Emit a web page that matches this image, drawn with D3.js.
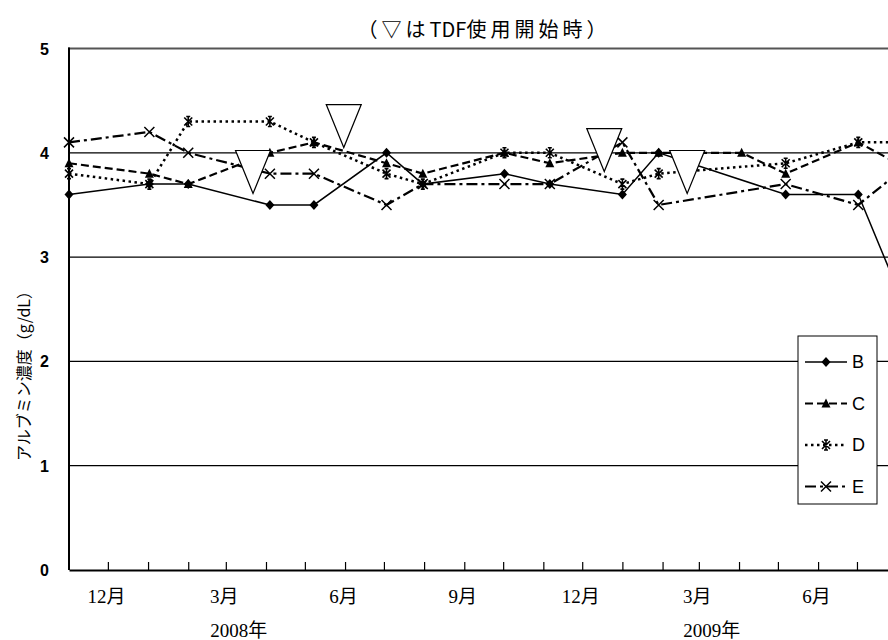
<!DOCTYPE html>
<html>
<head>
<meta charset="utf-8">
<script src="https://cdn.jsdelivr.net/npm/d3@7"></script>
<style>
  body { margin: 0; background: #fff; }
  svg { display: block; }
</style>
</head>
<body>
<div id="chart"></div>
<script>
// Measurement dates (shared by all series)
const dates = ["2007-11-01", "2008-01-02", "2008-02-01", "2008-04-04", "2008-05-08",
               "2008-07-03", "2008-07-31", "2008-10-02", "2008-11-06", "2009-01-01",
               "2009-01-29", "2009-04-03", "2009-05-07", "2009-07-02", "2009-08-01"];

// Albumin values per patient (null = not measured)
const seriesB = [3.6, 3.7, 3.7, 3.5, 3.5, 4.0, 3.7, 3.8, 3.7, 3.6, 4.0, null, 3.6, 3.6, 2.7];
const seriesC = [3.9, 3.8, 3.7, 4.0, 4.1, 3.9, 3.8, 4.0, 3.9, 4.0, 4.0, 4.0, 3.8, 4.1, 3.9];
const seriesD = [3.8, 3.7, 4.3, 4.3, 4.1, 3.8, 3.7, 4.0, 4.0, 3.7, 3.8, null, 3.9, 4.1, 4.1];
const seriesE = [4.1, 4.2, 4.0, 3.8, 3.8, 3.5, 3.7, 3.7, 3.7, 4.1, 3.5, null, 3.7, 3.5, 3.8];

// TDF start markers (tip of the ▽)
const tdfDates = ["2008-03-22", "2008-05-31", "2008-12-18", "2009-02-20"];
const tdfValues = [3.61, 4.05, 3.82, 3.61];

const yTicks = [0, 1, 2, 3, 4, 5];
const yearLabels = [["2008-03-01", "2008年"], ["2009-03-01", "2009年"]];

const W = 888, H = 640;
const parse = d3.timeParse("%Y-%m-%d");

const svg = d3.select("#chart").append("svg")
    .attr("width", W)
    .attr("height", H);

// scales: ~1.296 px per day, starting Nov 2007 at the y-axis
const x0 = parse("2007-11-01"), x1 = parse("2009-10-01");
const xScale = d3.scaleTime()
    .domain([x0, x1])
    .range([69, 69 + 1.296 * d3.timeDay.count(x0, x1)]);

const yScale = d3.scaleLinear()
    .domain([0, 5])
    .range([570, 48.5]);

// horizontal grid lines
svg.append("g")
    .selectAll("line")
    .data(yTicks.filter(d => d > 0 && d < 5))
    .enter().append("line")
    .attr("x1", 69).attr("x2", W)
    .attr("y1", d => yScale(d)).attr("y2", d => yScale(d))
    .attr("stroke", "#000")
    .attr("stroke-width", 1.2);

// top border
svg.append("line")
    .attr("x1", 68).attr("x2", W)
    .attr("y1", yScale(5)).attr("y2", yScale(5))
    .attr("stroke", "#555")
    .attr("stroke-width", 2);

// y axis
svg.append("line")
    .attr("x1", 69).attr("x2", 69)
    .attr("y1", yScale(5) - 1).attr("y2", yScale(0))
    .attr("stroke", "#000")
    .attr("stroke-width", 2);

svg.append("g")
    .selectAll("text")
    .data(yTicks)
    .enter().append("text")
    .attr("x", 49)
    .attr("y", d => yScale(d) + 6)
    .attr("text-anchor", "end")
    .style("font-family", "'Liberation Sans', Arial, sans-serif")
    .style("font-weight", "bold")
    .style("font-size", "16px")
    .text(d => d);

// x axis: monthly ticks pointing up, labels every 3 months (only the visible part)
const xAxis = d3.axisBottom(xScale)
    .tickValues(d3.timeMonth.range(parse("2007-12-01"), parse("2009-08-02")))
    .tickSizeInner(-8)
    .tickSizeOuter(0)
    .tickFormat(d => (d.getMonth() % 3 === 2 ? (d.getMonth() + 1) + "月" : ""));

const gx = svg.append("g")
    .attr("transform", `translate(0,${yScale(0)})`)
    .call(xAxis);

gx.select(".domain")
    .attr("stroke", "#000")
    .attr("stroke-width", 2);
gx.selectAll(".tick line")
    .attr("stroke", "#000")
    .attr("stroke-width", 1.2);
gx.selectAll(".tick text")
    .attr("y", 20)
    .attr("dx", "-2px")
    .style("font-family", "'Liberation Serif', 'Noto Sans CJK JP', serif")
    .style("font-size", "19px")
    .attr("fill", "#000");

svg.append("g")
    .selectAll("text")
    .data(yearLabels)
    .enter().append("text")
    .attr("x", d => xScale(parse(d[0])) + 13)
    .attr("y", 637)
    .attr("text-anchor", "middle")
    .style("font-family", "'Liberation Serif', 'Noto Sans CJK JP', serif")
    .style("font-size", "19px")
    .text(d => d[1]);

// series
const series = [
    { name: "B", values: seriesB, dash: null, width: 1.5, marker: "diamond" },
    { name: "C", values: seriesC, dash: "8,4", width: 2.2, marker: "triangle" },
    { name: "D", values: seriesD, dash: "2.5,3.5", width: 2.5, marker: "star" },
    { name: "E", values: seriesE, dash: "11,4,3,4", width: 2.2, marker: "cross" }
];

const line = d3.line()
    .x(d => xScale(d.date))
    .y(d => yScale(d.value));

function points(s) {
    return dates.map((d, i) => ({ date: parse(d), value: s.values[i] }))
        .filter(p => p.value !== null);
}

function drawMarker(g, type) {
    if (type === "diamond") {
        g.append("path").attr("d", "M0,-5L4.5,0L0,5L-4.5,0Z").attr("fill", "#000");
    } else if (type === "triangle") {
        g.append("path").attr("d", "M0,-5L4.5,4L-4.5,4Z").attr("fill", "#000");
    } else if (type === "star") {
        g.append("path").attr("d", "M-4,-4L4,4M-4,4L4,-4M0,-5L0,5M-2,-5L2,-5M-2,5L2,5")
            .attr("stroke", "#000").attr("stroke-width", 1.6).attr("fill", "none");
    } else {
        g.append("path").attr("d", "M-5,-5L5,5M-5,5L5,-5")
            .attr("stroke", "#000").attr("stroke-width", 1.5).attr("fill", "none");
    }
}

series.forEach(s => {
    svg.append("path")
        .datum(points(s))
        .attr("d", line)
        .attr("fill", "none")
        .attr("stroke", "#000")
        .attr("stroke-width", s.width)
        .attr("stroke-dasharray", s.dash);
});

series.forEach(s => {
    svg.append("g")
        .selectAll("g")
        .data(points(s))
        .enter().append("g")
        .attr("transform", d => `translate(${xScale(d.date)},${yScale(d.value)})`)
        .each(function() { drawMarker(d3.select(this), s.marker); });
});

// TDF start ▽ markers
svg.append("g")
    .selectAll("path")
    .data(tdfDates.map((d, i) => ({ date: parse(d), value: tdfValues[i] })))
    .enter().append("path")
    .attr("transform", d => `translate(${xScale(d.date)},${yScale(d.value)})`)
    .attr("d", "M0,0L-17.5,-43L17.5,-43Z")
    .attr("fill", "#fff")
    .attr("stroke", "#000")
    .attr("stroke-width", 1.2);

// legend
const legend = svg.append("g")
    .attr("transform", "translate(798,336)");

legend.append("rect")
    .attr("width", 79)
    .attr("height", 168)
    .attr("fill", "#fff")
    .attr("stroke", "#000")
    .attr("stroke-width", 1);

const legendItems = legend.selectAll(".legend-item")
    .data(series)
    .enter().append("g")
    .attr("class", "legend-item")
    .attr("transform", (d, i) => `translate(0,${26 + i * 41.5})`);

legendItems.append("line")
    .attr("x1", 7).attr("x2", 49)
    .attr("stroke", "#000")
    .attr("stroke-width", d => d.width)
    .attr("stroke-dasharray", d => d.dash);

legendItems.append("g")
    .attr("transform", "translate(28,0)")
    .each(function(d) { drawMarker(d3.select(this), d.marker); });

legendItems.append("text")
    .attr("x", 54)
    .attr("y", 6)
    .style("font-family", "'Liberation Sans', Arial, sans-serif")
    .style("font-size", "18px")
    .text(d => d.name);

// title (CJK part spaced out, "TDF" tight)
const title = svg.append("text")
    .attr("x", 484)
    .attr("y", 37)
    .attr("text-anchor", "middle")
    .style("font-family", "'Noto Sans CJK JP', sans-serif")
    .style("font-size", "20px");
title.append("tspan").style("letter-spacing", "4px").text("（▽は");
title.append("tspan").style("letter-spacing", "0px").text("TDF");
title.append("tspan").style("letter-spacing", "4px").text("使用開始時）");

// y-axis label
svg.append("text")
    .attr("transform", "translate(30,372) rotate(-90)")
    .attr("text-anchor", "middle")
    .style("font-family", "'Noto Sans CJK JP', sans-serif")
    .style("font-size", "16px")
    .text("アルブミン濃度（g/dL）");
</script>
</body>
</html>
